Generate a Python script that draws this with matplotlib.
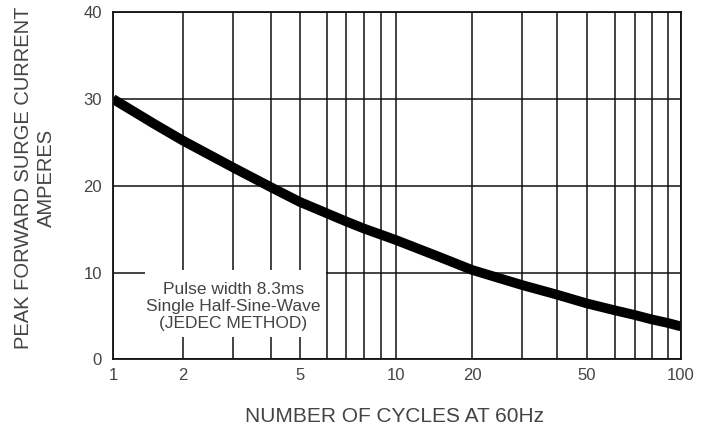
import matplotlib
matplotlib.use('Agg')
import matplotlib.pyplot as plt
from matplotlib.patches import Rectangle
from matplotlib.ticker import FixedLocator, NullFormatter
import numpy as np

plt.rcParams['font.family'] = ['Liberation Sans', 'DejaVu Sans']

# Surge current curve
cycles = [1, 1.5, 2, 3, 4, 5, 6, 7, 8, 9, 10, 15, 20, 30, 40, 50, 60, 70, 80, 90, 100]
current = [30, 27.15, 25.2, 22.1, 19.85, 18.15, 16.8, 15.9, 15.05, 14.35, 13.75,
           11.75, 10.3, 8.55, 7.45, 6.45, 5.65, 5.1, 4.6, 4.2, 3.8]

x_ticks = [1, 2, 5, 10, 20, 50, 100]
x_ticklabels = ['1', '2', '5', '10', '20', '50', '100']
x_minor = [3, 4, 6, 7, 8, 9, 30, 40, 60, 70, 80, 90]
y_ticks = [0, 10, 20, 30, 40]

note = 'Pulse width 8.3ms\nSingle Half-Sine-Wave\n(JEDEC METHOD)'
text_col = '#444444'

# the printed log paper is not evenly spaced, so map each grid value
# to where its line sits on the original sheet (in decades from x=1)
paper_vals = [1, 2, 3, 4, 5, 6, 7, 8, 9, 10, 20, 30, 40, 50, 60, 70, 80, 90, 100]
paper_px = [113, 183, 233.3, 270.7, 299.7, 327.5, 346, 364.5, 381.5, 396,
            472.2, 522.6, 557.3, 586.8, 615, 635.3, 652, 667.8, 681]
log_v = np.log10(paper_vals)
pos_v = (np.array(paper_px) - paper_px[0]) / (paper_px[-1] - paper_px[0]) * 2
# extend a little past both ends so the mapping stays invertible
log_v = np.concatenate([[-1], log_v, [3]])
pos_v = np.concatenate([[-1], pos_v, [3]])


def forward(x):
    x = np.clip(np.asarray(x, dtype=float), 0.1, 1000)
    return np.interp(np.log10(x), log_v, pos_v)


def inverse(p):
    return 10 ** np.interp(p, pos_v, log_v)


fig = plt.figure(figsize=(7.1, 4.33), dpi=100)
ax = fig.add_axes([0.159, 0.170, 0.800, 0.802])

ax.set_xscale('function', functions=(forward, inverse))
ax.set_xlim(1, 100)
ax.set_ylim(0, 40)

ax.xaxis.set_major_locator(FixedLocator(x_ticks))
ax.xaxis.set_minor_locator(FixedLocator(x_minor))
ax.xaxis.set_minor_formatter(NullFormatter())
ax.set_xticks(x_ticks)
ax.set_xticklabels(x_ticklabels)
ax.set_yticks(y_ticks)

ax.grid(True, which='both', axis='x', color='#111111', linewidth=1.1)
ax.grid(True, which='major', axis='y', color='#111111', linewidth=1.1)
ax.set_axisbelow(True)

ax.tick_params(which='both', length=0)
ax.tick_params(axis='y', pad=8, labelsize=12, labelcolor=text_col)
ax.tick_params(axis='x', pad=6, labelsize=12, labelcolor=text_col)

for s in ax.spines.values():
    s.set_linewidth(1.3)
    s.set_color('#111111')

# white box for the note, hides the grid behind it
ax.add_patch(Rectangle((1.37, 2.6), 5.94 - 1.37, 10.3 - 2.6, facecolor='white',
                       edgecolor='none', zorder=1))
ax.text(3, 6.1, note, ha='center', va='center',
        fontsize=12.5, color=text_col, linespacing=1.15, zorder=3)

ax.plot(cycles, current, color='black', linewidth=7, solid_capstyle='butt',
        solid_joinstyle='round', zorder=2)

fig.text(0.049, 1 - 178 / 433, 'PEAK FORWARD SURGE CURRENT\nAMPERES', rotation=90,
         ha='center', va='center', fontsize=14.5, color=text_col, linespacing=1.3)
fig.text(0.556, 1 - 417 / 433, 'NUMBER OF CYCLES AT 60Hz', ha='center', va='center',
         fontsize=15, color=text_col)

plt.savefig('out.png', dpi=100)
